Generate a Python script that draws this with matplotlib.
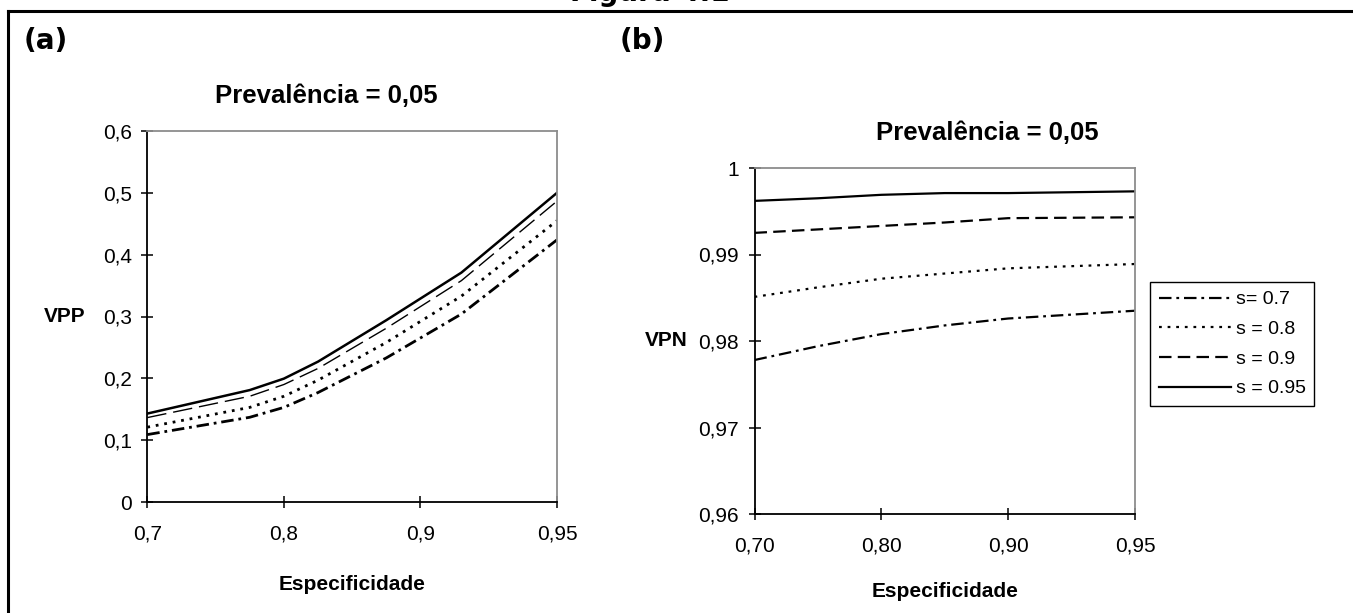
import numpy as np
import matplotlib
matplotlib.use("Agg")
import matplotlib.pyplot as plt
from matplotlib.lines import Line2D

plt.rcParams['font.family'] = ['Liberation Sans', 'DejaVu Sans']
plt.rcParams['lines.scale_dashes'] = False

# Especificidade: the axis is drawn with equal spacing between labelled ticks
spec_ticks = [0.70, 0.80, 0.90, 0.95]
tick_pos = [0, 1, 2, 3]

# (a) VPP, prevalence 0.05
spec_a = [0.70, 0.775, 0.80, 0.825, 0.875, 0.915, 0.95]
vpp_s70 = [0.109, 0.137, 0.153, 0.177, 0.233, 0.304, 0.424]
vpp_s80 = [0.121, 0.153, 0.171, 0.197, 0.258, 0.333, 0.455]
vpp_s90 = [0.1365, 0.171, 0.190, 0.216, 0.281, 0.358, 0.4866]
vpp_s95 = [0.143, 0.181, 0.1995, 0.227, 0.294, 0.371, 0.500]

# (b) VPN, prevalence 0.05
spec_b = [0.70, 0.75, 0.80, 0.85, 0.90, 0.95]
vpn_s70 = [0.9778, 0.9794, 0.9808, 0.9818, 0.9826, 0.9835]
vpn_s80 = [0.9851, 0.9862, 0.9872, 0.9878, 0.9884, 0.9889]
vpn_s90 = [0.9925, 0.9929, 0.9933, 0.9937, 0.9942, 0.9943]
vpn_s95 = [0.9962, 0.9965, 0.9969, 0.9971, 0.9971, 0.9973]

legend_labels = ['s= 0.7', 's = 0.8', 's = 0.9', 's = 0.95']
yticks_a = [0, 0.1, 0.2, 0.3, 0.4, 0.5, 0.6]
yticklabels_a = ['0', '0,1', '0,2', '0,3', '0,4', '0,5', '0,6']
yticks_b = [0.96, 0.97, 0.98, 0.99, 1.0]
yticklabels_b = ['0,96', '0,97', '0,98', '0,99', '1']
xticklabels_a = ['0,7', '0,8', '0,9', '0,95']
xticklabels_b = ['0,70', '0,80', '0,90', '0,95']

# line styles (dash lengths in points)
dashdot = (0, (9, 3.5, 2, 3.5))
dotted = (0, (2, 4.2))
dashed = (0, (9, 4.5))


def fwd(x):
    return np.interp(x, spec_ticks, tick_pos)


def inv(p):
    return np.interp(p, tick_pos, spec_ticks)


W, H = 1353, 613
fig = plt.figure(figsize=(W / 100, H / 100), dpi=100)


def style_axes(ax, xlabels, yticks, ylabels):
    ax.set_xscale('function', functions=(fwd, inv))
    ax.set_xlim(0.70, 0.95)
    ax.set_xticks(spec_ticks)
    ax.set_xticklabels(xlabels)
    ax.set_yticks(yticks)
    ax.set_yticklabels(ylabels)
    ax.set_ylim(yticks[0], yticks[-1])
    ax.tick_params(axis='both', labelsize=15, direction='inout', length=8,
                   width=1.1, color='black')
    ax.tick_params(axis='x', pad=12)
    ax.tick_params(axis='y', pad=7)
    ax.minorticks_off()
    for side in ['left', 'bottom']:
        ax.spines[side].set_color('black')
        ax.spines[side].set_linewidth(1.3)
    for side in ['top', 'right']:
        ax.spines[side].set_color('#8c8c8c')
        ax.spines[side].set_linewidth(1.3)
    ax.set_xlabel('Especificidade', fontsize=15, fontweight='bold')
    ax.xaxis.set_label_coords(0.5, -0.197)


def px_axes(left, top, right, bottom):
    return fig.add_axes([left / W, 1 - bottom / H, (right - left) / W, (bottom - top) / H])


# panel (a)
ax1 = px_axes(147.3, 131, 557, 502)
ax1.plot(spec_a, vpp_s70, color='black', lw=2.0, ls=dashdot)
ax1.plot(spec_a, vpp_s80, color='black', lw=2.0, ls=dotted)
ax1.plot(spec_a, vpp_s90, color='black', lw=1.0, ls=(0, (14, 5)))
ax1.plot(spec_a, vpp_s95, color='black', lw=1.8, ls='-')
style_axes(ax1, xticklabels_a, yticks_a, yticklabels_a)
ax1.set_ylabel('VPP', fontsize=15, fontweight='bold', rotation=0, ha='right', va='center')
ax1.yaxis.set_label_coords(-0.152, 0.5)

# panel (b)
ax2 = px_axes(754.5, 168, 1135, 514)
lines = []
lines += ax2.plot(spec_b, vpn_s70, color='black', lw=1.6, ls=dashdot)
lines += ax2.plot(spec_b, vpn_s80, color='black', lw=1.6, ls=dotted)
lines += ax2.plot(spec_b, vpn_s90, color='black', lw=1.6, ls=dashed)
lines += ax2.plot(spec_b, vpn_s95, color='black', lw=1.6, ls='-')
style_axes(ax2, xticklabels_b, yticks_b, yticklabels_b)
ax2.set_ylabel('VPN', fontsize=15, fontweight='bold', rotation=0, ha='right', va='center')
ax2.yaxis.set_label_coords(-0.175, 0.5)

leg = ax2.legend(lines, legend_labels, loc='upper left',
                 bbox_to_anchor=(1150 / W, 1 - 282 / H), bbox_transform=fig.transFigure,
                 borderaxespad=0, fontsize=14, handlelength=3.7, handletextpad=0.25,
                 labelspacing=0.62, borderpad=0.45, fancybox=False, framealpha=1)
leg.get_frame().set_edgecolor('black')
leg.get_frame().set_linewidth(1.0)

# chart titles
fig.text(326 / W, 1 - 96 / H, 'Prevalência = 0,05', fontsize=18.5, fontweight='bold',
         ha='center', va='center')
fig.text(987 / W, 1 - 133 / H, 'Prevalência = 0,05', fontsize=18.5, fontweight='bold',
         ha='center', va='center')

# panel letters and figure caption
fig.text(24 / W, 1 - 41 / H, '(a)', fontsize=20, fontweight='bold',
         family='DejaVu Sans', ha='left', va='center')
fig.text(620 / W, 1 - 41 / H, '(b)', fontsize=20, fontweight='bold',
         family='DejaVu Sans', ha='left', va='center')
fig.text(650 / W, 1 - 7 / H, 'Figura 4.1', fontsize=20, fontweight='bold',
         family='DejaVu Sans', ha='center', va='bottom')

# frame lines on top and left
fig.add_artist(Line2D([8 / W, 1], [1 - 11 / H, 1 - 11 / H], color='black', lw=2.2,
                      transform=fig.transFigure))
fig.add_artist(Line2D([8 / W, 8 / W], [0, 1 - 11 / H], color='black', lw=2.2,
                      transform=fig.transFigure))

fig.savefig('out.png', dpi=100)
